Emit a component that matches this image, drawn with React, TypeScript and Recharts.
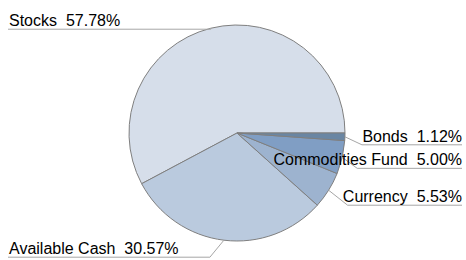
import React from "react";
import { PieChart, Pie, Cell } from "recharts";

const categories = ["Stocks", "Available Cash", "Currency", "Commodities Fund", "Bonds"];
const shares = [57.78, 30.57, 5.53, 5.0, 1.12];
const colors = ["#d6deea", "#bacade", "#9db3cf", "#809ec4", "#6a86a3"];

const data = categories.map((name, i) => ({ name, value: shares[i] }));

// leader-line elbow offsets (layout only)
const elbow: Record<string, { dx: number; dy: number }> = {
  Stocks: { dx: 0, dy: 1 },
  "Available Cash": { dx: -14, dy: 17 },
  Currency: { dx: 19, dy: 15 },
  "Commodities Fund": { dx: 15, dy: 11 },
  Bonds: { dx: 17, dy: 8 },
};

const W = 466;
const H = 260;
const RAD = Math.PI / 180;

const renderLabel = (props: any) => {
  const { cx, cy, midAngle, outerRadius, name, value } = props;
  const x0 = cx + outerRadius * Math.cos(-midAngle * RAD);
  const y0 = cy + outerRadius * Math.sin(-midAngle * RAD);
  const e = elbow[name] || { dx: 0, dy: 0 };
  const x1 = x0 + e.dx;
  const y1 = y0 + e.dy;
  const right = x0 > cx;
  const x2 = right ? W - 4 : 8;
  const text = `${name}  ${value.toFixed(2)}%`;
  return (
    <g key={name}>
      <polyline
        points={`${x0},${y0} ${x1},${y1} ${x2},${y1}`}
        fill="none"
        stroke="#a6a6a6"
        strokeWidth={1}
      />
      <text
        x={right ? W - 4 : 9}
        y={y1 - 3}
        textAnchor={right ? "end" : "start"}
        fill="#000"
        fontSize={16}
        fontFamily="'Liberation Sans', Arial, sans-serif"
        style={{ whiteSpace: "pre" }}
      >
        {text}
      </text>
    </g>
  );
};

export default function App() {
  return (
    <div style={{ position: "absolute", left: 0, top: 0, width: W, height: H, background: "#fff" }}>
      <PieChart width={W} height={H} margin={{ top: 0, right: 0, bottom: 0, left: 0 }}>
        <Pie
          data={data}
          dataKey="value"
          nameKey="name"
          cx={237}
          cy={133}
          outerRadius={108}
          startAngle={0}
          endAngle={360}
          stroke="#7f7f7f"
          strokeWidth={1}
          label={renderLabel}
          labelLine={false}
          isAnimationActive={false}
        >
          {data.map((d, i) => (
            <Cell key={d.name} fill={colors[i]} />
          ))}
        </Pie>
      </PieChart>
    </div>
  );
}
